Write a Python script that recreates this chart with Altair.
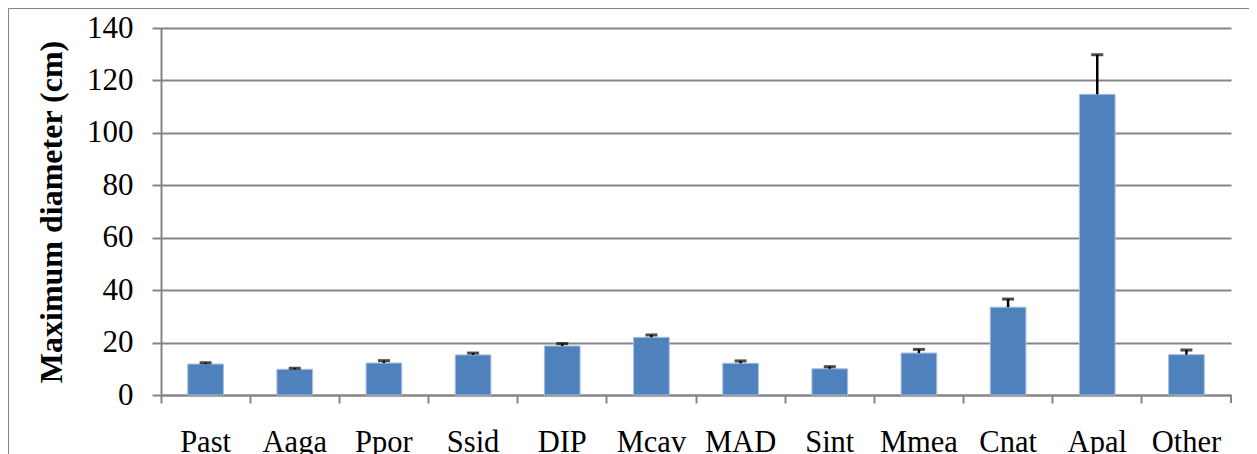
import altair as alt
import pandas as pd

species = ["Past", "Aaga", "Ppor", "Ssid", "DIP", "Mcav", "MAD", "Sint", "Mmea", "Cnat", "Apal", "Other"]
mean_diam = [11.8, 9.8, 12.2, 15.3, 18.7, 22.0, 12.1, 10.0, 16.0, 33.5, 114.7, 15.4]
err_diam = [0.5, 0.4, 0.9, 0.7, 0.9, 0.9, 0.9, 0.8, 1.4, 3.1, 15.1, 1.8]
y_ticks = [0, 20, 40, 60, 80, 100, 120, 140]

df = pd.DataFrame({"species": species, "mean": mean_diam, "err": err_diam})
df["top"] = df["mean"] + df["err"]

W, H = 1070, 367
GRAY = "#858585"
FONT = "Times New Roman, Liberation Serif, Tinos, DejaVu Serif, serif"
YTITLE = "Maximum diameter (cm)"

xscale = alt.Scale(domain=species, paddingInner=0, paddingOuter=0)
yscale = alt.Scale(domain=[0, 140], nice=False)

x_axis = alt.Axis(title=None, labelAngle=0, bandPosition=0, tickSize=8, tickColor=GRAY,
                  tickWidth=2, domainColor=GRAY, domainWidth=2, grid=False,
                  labelPadding=24, labelFont=FONT, labelFontSize=30.5, labelColor="black")
y_axis = alt.Axis(title=YTITLE, values=y_ticks, tickSize=9, tickColor=GRAY, tickWidth=2,
                  domainColor=GRAY, domainWidth=2, grid=True, gridColor=GRAY, gridWidth=2,
                  labelPadding=19, labelFont=FONT, labelFontSize=31, labelColor="black",
                  titleFont=FONT, titleFontSize=32, titleFontWeight="bold", titleColor="black",
                  titleX=-100, titleY=H / 2, titleAlign="center", titleBaseline="alphabetic",
                  titleAngle=270)

base = alt.Chart(df)

bars = base.mark_bar(width=alt.RelativeBandSize(0.4), color="#4F81BD",
                     stroke="#A7BFDD", strokeWidth=1).encode(
    x=alt.X("species:N", sort=species, scale=xscale, axis=x_axis),
    y=alt.Y("mean:Q", scale=yscale, axis=y_axis, title=YTITLE),
)

err_line = base.mark_rule(color="black", strokeWidth=2.5).encode(
    x=alt.X("species:N", sort=species, title=None),
    y=alt.Y("mean:Q", title=YTITLE),
    y2="top:Q",
)

err_cap = base.mark_tick(color="black", thickness=3, size=12).encode(
    x=alt.X("species:N", sort=species, title=None),
    y=alt.Y("top:Q", title=YTITLE),
)

one = pd.DataFrame({"k": [0]})
end_tick = alt.Chart(one).mark_rule(color=GRAY, strokeWidth=2).encode(
    x=alt.value(W), y=alt.value(H), y2=alt.value(H + 8)
)
frame = alt.Chart(one).mark_rect(fillOpacity=0, stroke=GRAY, strokeWidth=1).encode(
    x=alt.value(-152.5), x2=alt.value(W + 200), y=alt.value(-19.5), y2=alt.value(H + 200)
)

chart = alt.layer(frame, bars, err_line, err_cap, end_tick).properties(
    width=W, height=H,
    autosize=alt.AutoSizeParams(type="none"),
    padding={"left": 153, "top": 20, "right": 18, "bottom": 59},
).configure_view(stroke=None)

chart.save("out.html", embed_options={"renderer": "svg", "actions": False})
